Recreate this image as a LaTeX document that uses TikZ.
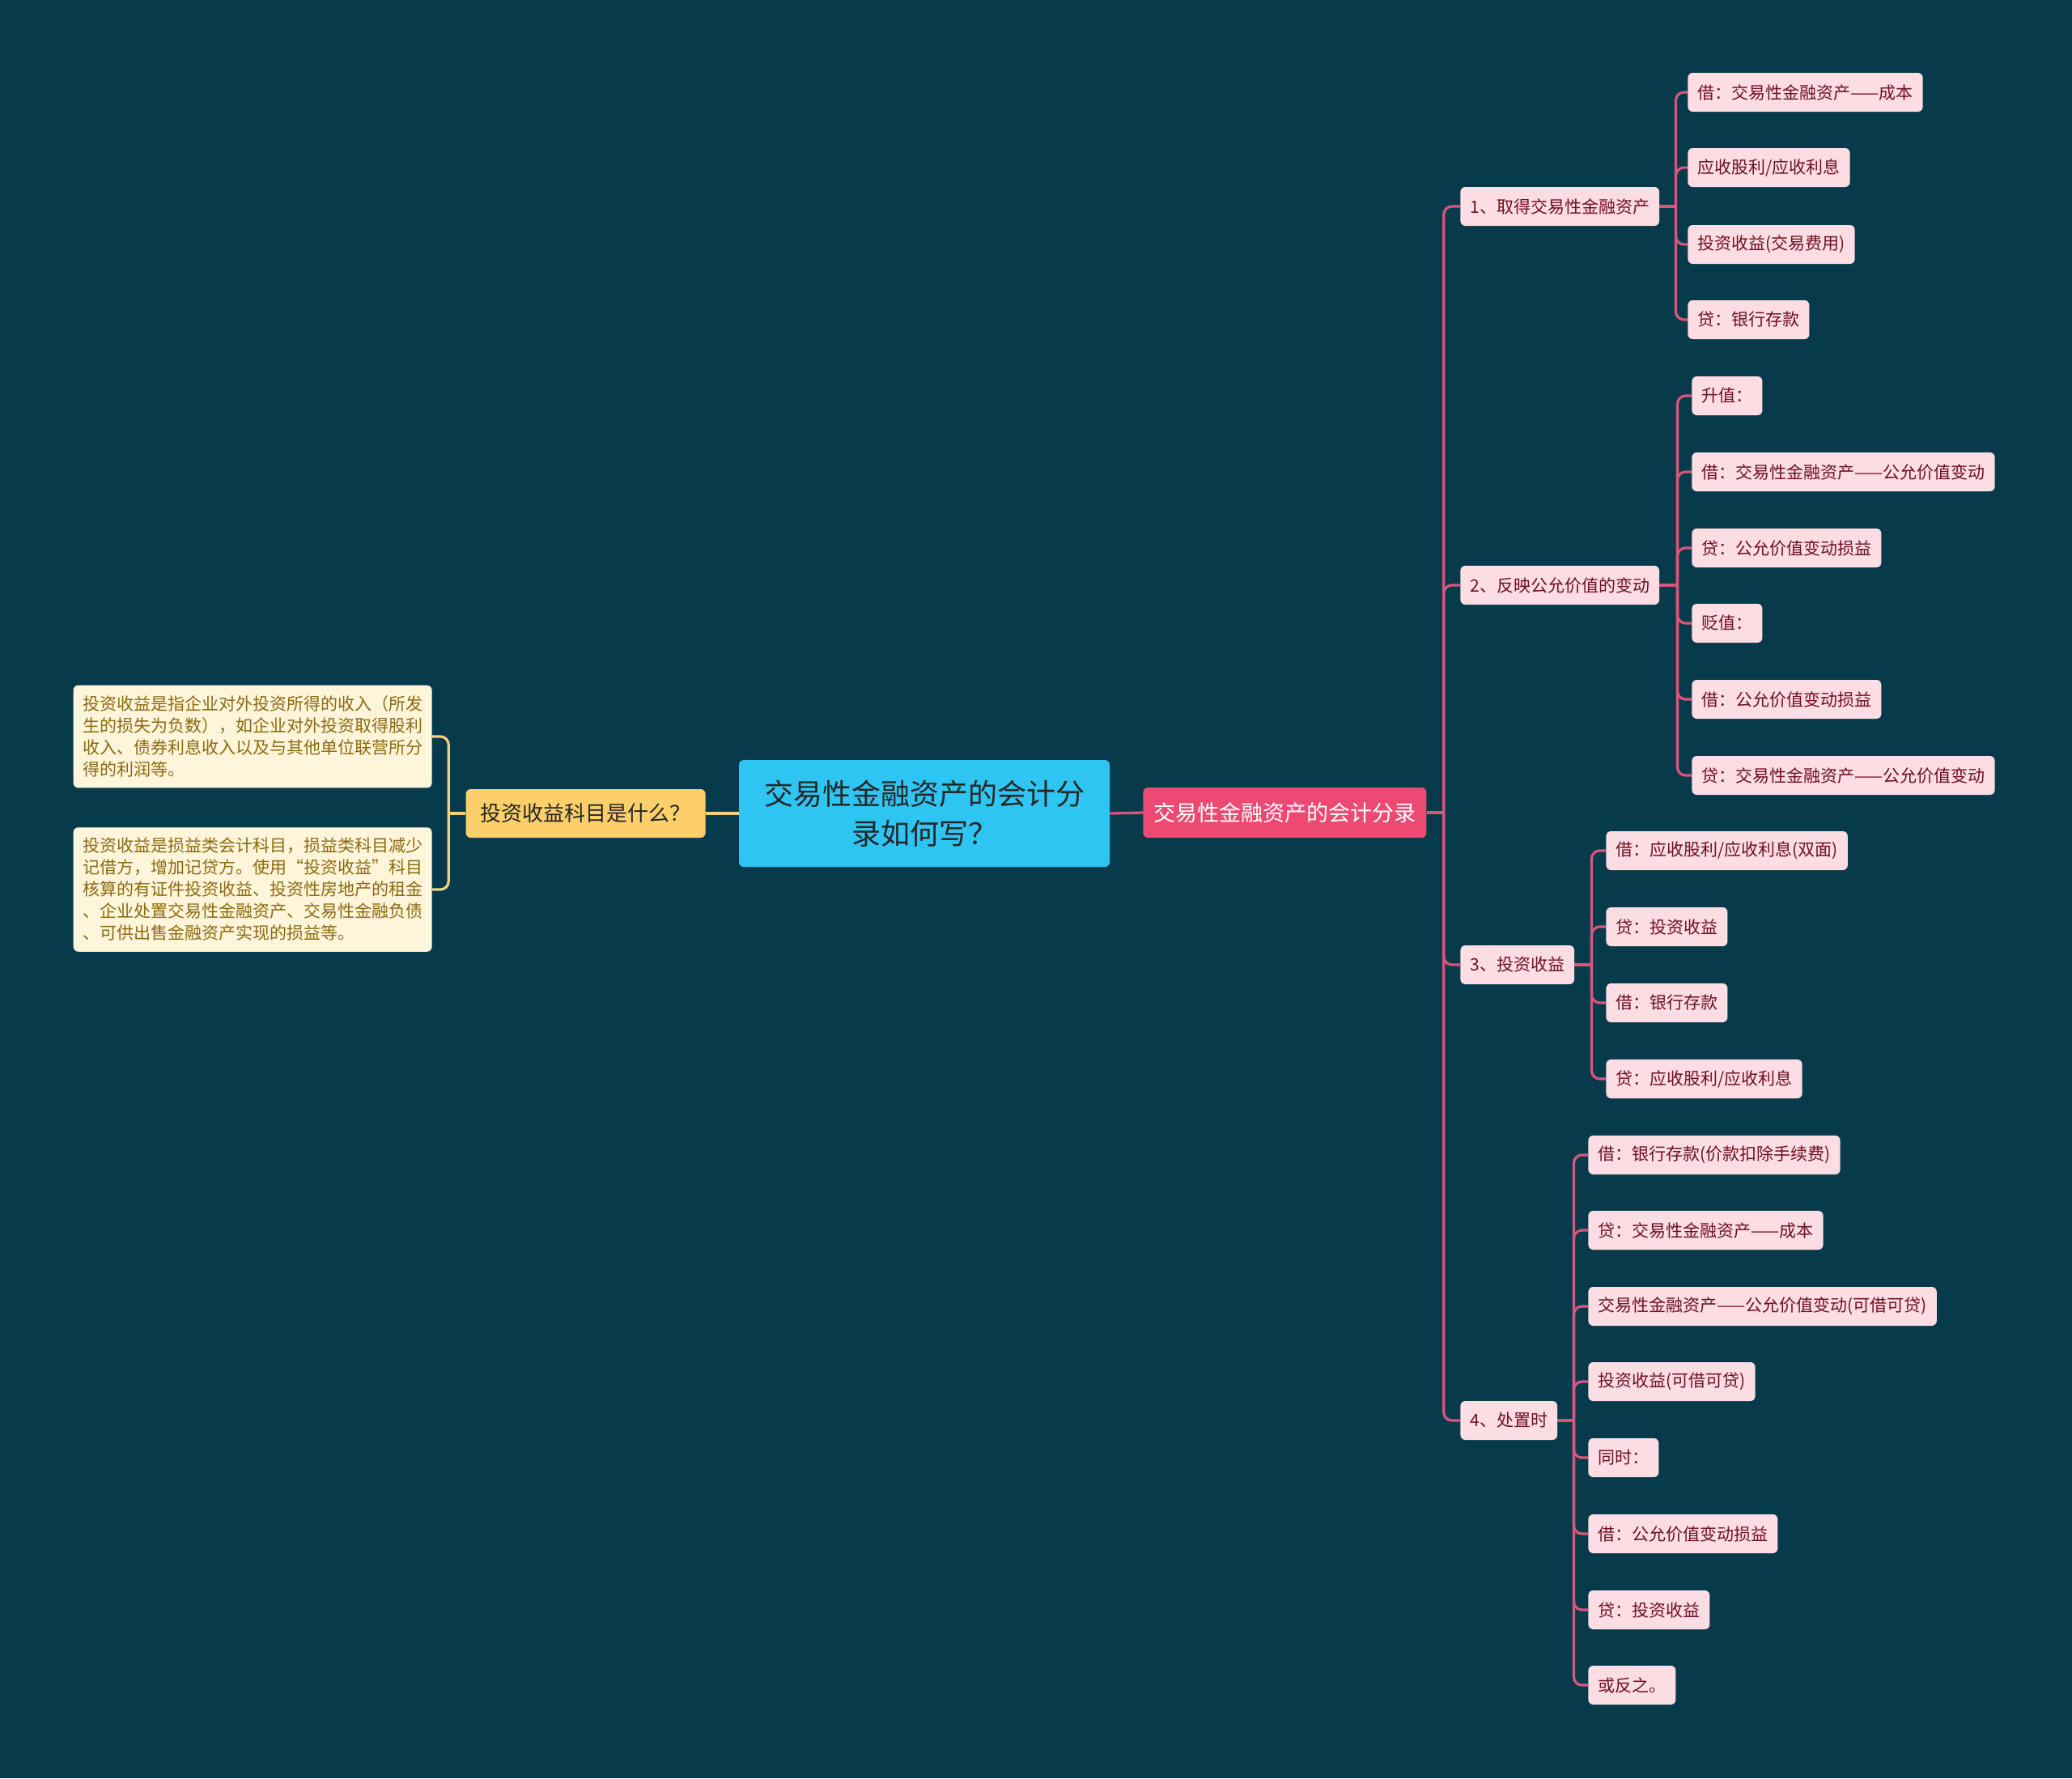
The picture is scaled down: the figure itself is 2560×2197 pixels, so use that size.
\documentclass[tikz,border=0pt]{standalone}
\usepackage{fontspec}
\setmainfont{Noto Sans CJK SC}
\usetikzlibrary{positioning}
\definecolor{bg}{HTML}{073B4C}
\definecolor{rootc}{HTML}{2EC5F3}
\definecolor{hubc}{HTML}{EC4A72}
\definecolor{leafc}{HTML}{FDDDE4}
\definecolor{leaft}{HTML}{6E0F22}
\definecolor{linkc}{HTML}{D9557C}
\definecolor{askc}{HTML}{FCCF6B}
\definecolor{notec}{HTML}{FFF5DA}
\definecolor{notet}{HTML}{8A6A10}
\definecolor{ylinkc}{HTML}{F2D27F}

\begin{document}
\begin{tikzpicture}[x=0.5pt, y=-0.5pt,
  root/.style={fill=rootc, text=black!85, rounded corners=3pt, align=center,
               minimum width=229pt, minimum height=66pt, font=\fontsize{18}{24.5}\selectfont},
  hub/.style={fill=hubc, text=white, rounded corners=3pt, anchor=west,
              minimum height=31pt, inner xsep=6.5pt, font=\fontsize{13.5}{16}\selectfont},
  ask/.style={fill=askc, text=black!85, rounded corners=3pt, anchor=east,
              minimum height=30pt, inner xsep=9pt, font=\fontsize{13}{16}\selectfont},
  note/.style={fill=notec, text=notet, rounded corners=3pt, anchor=east, align=left,
               minimum width=221.5pt, inner xsep=5.5pt, inner ysep=6.5pt,
               font=\fontsize{10.5}{13.5}\selectfont},
  item/.style={fill=leafc, text=leaft, rounded corners=3pt, anchor=west,
               minimum height=24pt, inner xsep=6pt, font=\fontsize{10.5}{12}\selectfont},
  link/.style={draw=linkc, line width=1.6pt, rounded corners=5pt},
  ylink/.style={draw=ylinkc, line width=1.6pt, rounded corners=5pt},
]
  \fill[bg] (0,0) rectangle (2560,2197);

  % centro
  \node[root] (root) at (1142,1005) {交易性金融资产的会计分\\录如何写？};
  \node[hub] (hub) at (1412,1004) {交易性金融资产的会计分录};
  \node[ask] (ask) at (872,1005) {投资收益科目是什么？};

  % notas a la izquierda
  \node[note] (n1) at (534,910) {投资收益是指企业对外投资所得的收入（所发\\生的损失为负数），如企业对外投资取得股利\\收入、债券利息收入以及与其他单位联营所分\\得的利润等。};
  \node[note] (n2) at (534,1099) {投资收益是损益类会计科目，损益类科目减少\\记借方，增加记贷方。使用“投资收益”科目\\核算的有证件投资收益、投资性房地产的租金\\、企业处置交易性金融资产、交易性金融负债\\、可供出售金融资产实现的损益等。};

  % ramas
  \node[item] (s1) at (1804,255)  {1、取得交易性金融资产};
  \node[item] (s2) at (1804,723)  {2、反映公允价值的变动};
  \node[item] (s3) at (1804,1192) {3、投资收益};
  \node[item] (s4) at (1804,1755) {4、处置时};

  \node[item] (a1) at (2085,114) {借：交易性金融资产——成本};
  \node[item] (a2) at (2085,207) {应收股利/应收利息};
  \node[item] (a3) at (2085,302) {投资收益(交易费用)};
  \node[item] (a4) at (2085,395) {贷：银行存款};

  \node[item] (b1) at (2090,489) {升值：};
  \node[item] (b2) at (2090,583) {借：交易性金融资产——公允价值变动};
  \node[item] (b3) at (2090,677) {贷：公允价值变动损益};
  \node[item] (b4) at (2090,770) {贬值：};
  \node[item] (b5) at (2090,864) {借：公允价值变动损益};
  \node[item] (b6) at (2090,958) {贷：交易性金融资产——公允价值变动};

  \node[item] (c1) at (1984,1051) {借：应收股利/应收利息(双面)};
  \node[item] (c2) at (1984,1145) {贷：投资收益};
  \node[item] (c3) at (1984,1239) {借：银行存款};
  \node[item] (c4) at (1984,1333) {贷：应收股利/应收利息};

  \node[item] (d1) at (1962,1427) {借：银行存款(价款扣除手续费)};
  \node[item] (d2) at (1962,1520) {贷：交易性金融资产——成本};
  \node[item] (d3) at (1962,1614) {交易性金融资产——公允价值变动(可借可贷)};
  \node[item] (d4) at (1962,1707) {投资收益(可借可贷)};
  \node[item] (d5) at (1962,1801) {同时：};
  \node[item] (d6) at (1962,1895) {借：公允价值变动损益};
  \node[item] (d7) at (1962,1989) {贷：投资收益};
  \node[item] (d8) at (1962,2082) {或反之。};

  % conectores
  \draw[link] (root.east) -- (hub.west);
  \draw[ylink] (root.west) -- (ask.east);
  \draw[ylink] (ask.west) -- ++(-21,0);
  \draw[ylink] (ask.west) ++(-21,0) |- (n1.east);
  \draw[ylink] (ask.west) ++(-21,0) |- (n2.east);

  \draw[link] (hub.east) -- ++(21,0);
  \foreach \s in {s1,s2,s3,s4}
    \draw[link] (hub.east) ++(21,0) |- (\s.west);

  \draw[link] (s1.east) -- ++(20,0);
  \foreach \t in {a1,a2,a3,a4}
    \draw[link] (s1.east) ++(20,0) |- (\t.west);
  \draw[link] (s2.east) -- ++(22,0);
  \foreach \t in {b1,b2,b3,b4,b5,b6}
    \draw[link] (s2.east) ++(22,0) |- (\t.west);
  \draw[link] (s3.east) -- ++(21,0);
  \foreach \t in {c1,c2,c3,c4}
    \draw[link] (s3.east) ++(21,0) |- (\t.west);
  \draw[link] (s4.east) -- ++(20,0);
  \foreach \t in {d1,d2,d3,d4,d5,d6,d7,d8}
    \draw[link] (s4.east) ++(20,0) |- (\t.west);
\end{tikzpicture}
\end{document}
